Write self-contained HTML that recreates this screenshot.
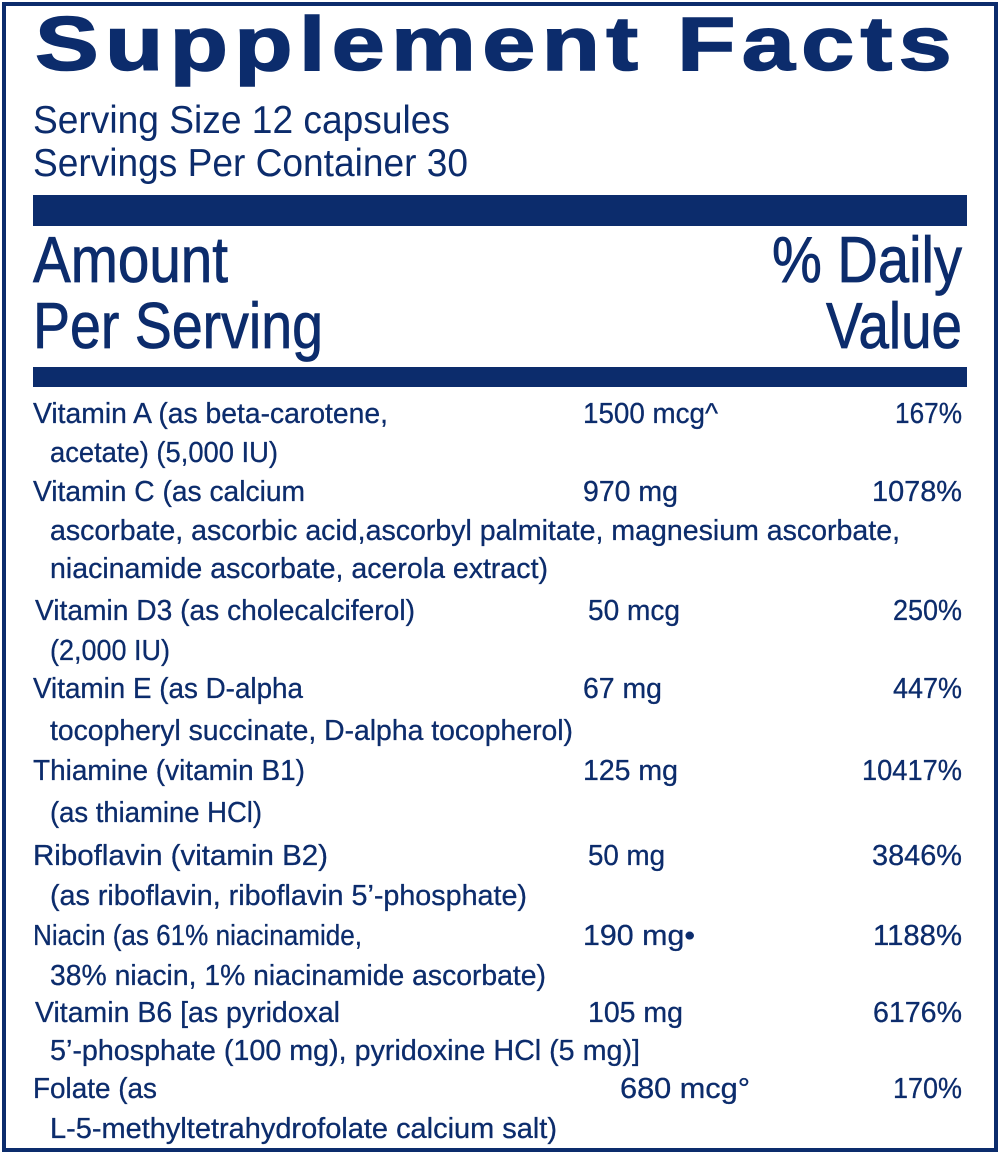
<!DOCTYPE html>
<html><head><meta charset="utf-8"><style>
html,body{margin:0;padding:0;background:#fff;}
svg{display:block;}
text{font-family:"Liberation Sans",sans-serif;fill:#0c2c6c;}
.r text{font-size:29px;stroke:#0c2c6c;stroke-width:0.3;}
</style></head><body>
<svg width="1000" height="1155" viewBox="0 0 1000 1155" xmlns="http://www.w3.org/2000/svg">
<rect x="4" y="4" width="992" height="1146" fill="none" stroke="#0c2c6c" stroke-width="4"/>
<text x="35" y="70" font-size="76" font-weight="bold" letter-spacing="5" stroke="#0c2c6c" stroke-width="1.5" textLength="923" lengthAdjust="spacingAndGlyphs">Supplement Facts</text>
<text x="33" y="133" font-size="39" textLength="417" lengthAdjust="spacingAndGlyphs">Serving Size 12 capsules</text>
<text x="33" y="176" font-size="39" textLength="435" lengthAdjust="spacingAndGlyphs">Servings Per Container 30</text>
<rect x="33" y="195" width="934" height="31" fill="#0c2c6c"/>
<text x="33" y="282" font-size="65" stroke="#0c2c6c" stroke-width="0.8" textLength="195" lengthAdjust="spacingAndGlyphs">Amount</text>
<text x="33" y="348" font-size="65" stroke="#0c2c6c" stroke-width="0.8" textLength="290" lengthAdjust="spacingAndGlyphs">Per Serving</text>
<text x="962" y="282" font-size="65" stroke="#0c2c6c" stroke-width="0.8" text-anchor="end" textLength="190" lengthAdjust="spacingAndGlyphs">% Daily</text>
<text x="962" y="348" font-size="65" stroke="#0c2c6c" stroke-width="0.8" text-anchor="end" textLength="136" lengthAdjust="spacingAndGlyphs">Value</text>
<rect x="33" y="367" width="934" height="20" fill="#0c2c6c"/>
<g class="r">
<text x="33" y="423" textLength="355" lengthAdjust="spacingAndGlyphs">Vitamin A (as beta-carotene,</text>
<text x="583" y="423" textLength="135" lengthAdjust="spacingAndGlyphs">1500 mcg^</text>
<text x="895" y="423" textLength="67" lengthAdjust="spacingAndGlyphs">167%</text>
<text x="50" y="462" textLength="228" lengthAdjust="spacingAndGlyphs">acetate) (5,000 IU)</text>
<text x="33" y="501" textLength="272" lengthAdjust="spacingAndGlyphs">Vitamin C (as calcium</text>
<text x="583" y="501" textLength="95" lengthAdjust="spacingAndGlyphs">970 mg</text>
<text x="872" y="501" textLength="90" lengthAdjust="spacingAndGlyphs">1078%</text>
<text x="50" y="540" textLength="850" lengthAdjust="spacingAndGlyphs">ascorbate, ascorbic acid,ascorbyl palmitate, magnesium ascorbate,</text>
<text x="50" y="578" textLength="498" lengthAdjust="spacingAndGlyphs">niacinamide ascorbate, acerola extract)</text>
<text x="35" y="620" textLength="380" lengthAdjust="spacingAndGlyphs">Vitamin D3 (as cholecalciferol)</text>
<text x="588" y="620" textLength="92" lengthAdjust="spacingAndGlyphs">50 mcg</text>
<text x="893" y="620" textLength="69" lengthAdjust="spacingAndGlyphs">250%</text>
<text x="50" y="660" textLength="120" lengthAdjust="spacingAndGlyphs">(2,000 IU)</text>
<text x="33" y="698" textLength="270" lengthAdjust="spacingAndGlyphs">Vitamin E (as D-alpha</text>
<text x="583" y="698" textLength="79" lengthAdjust="spacingAndGlyphs">67 mg</text>
<text x="893" y="698" textLength="69" lengthAdjust="spacingAndGlyphs">447%</text>
<text x="50" y="740" textLength="523" lengthAdjust="spacingAndGlyphs">tocopheryl succinate, D-alpha tocopherol)</text>
<text x="33" y="780" textLength="272" lengthAdjust="spacingAndGlyphs">Thiamine (vitamin B1)</text>
<text x="583" y="780" textLength="95" lengthAdjust="spacingAndGlyphs">125 mg</text>
<text x="862" y="780" textLength="100" lengthAdjust="spacingAndGlyphs">10417%</text>
<text x="50" y="822" textLength="212" lengthAdjust="spacingAndGlyphs">(as thiamine HCl)</text>
<text x="33" y="865" textLength="295" lengthAdjust="spacingAndGlyphs">Riboflavin (vitamin B2)</text>
<text x="588" y="865" textLength="77" lengthAdjust="spacingAndGlyphs">50 mg</text>
<text x="872" y="865" textLength="90" lengthAdjust="spacingAndGlyphs">3846%</text>
<text x="50" y="905" textLength="477" lengthAdjust="spacingAndGlyphs">(as riboflavin, riboflavin 5’-phosphate)</text>
<text x="33" y="945" textLength="329" lengthAdjust="spacingAndGlyphs">Niacin (as 61% niacinamide,</text>
<text x="583" y="945" textLength="112" lengthAdjust="spacingAndGlyphs">190 mg•</text>
<text x="873" y="945" textLength="89" lengthAdjust="spacingAndGlyphs">1188%</text>
<text x="50" y="985" textLength="496" lengthAdjust="spacingAndGlyphs">38% niacin, 1% niacinamide ascorbate)</text>
<text x="35" y="1022" textLength="305" lengthAdjust="spacingAndGlyphs">Vitamin B6 [as pyridoxal</text>
<text x="588" y="1022" textLength="95" lengthAdjust="spacingAndGlyphs">105 mg</text>
<text x="873" y="1022" textLength="89" lengthAdjust="spacingAndGlyphs">6176%</text>
<text x="50" y="1060" textLength="590" lengthAdjust="spacingAndGlyphs">5’-phosphate (100 mg), pyridoxine HCl (5 mg)]</text>
<text x="33" y="1098" textLength="124" lengthAdjust="spacingAndGlyphs">Folate (as</text>
<text x="620" y="1098" textLength="130" lengthAdjust="spacingAndGlyphs">680 mcg°</text>
<text x="893" y="1098" textLength="69" lengthAdjust="spacingAndGlyphs">170%</text>
<text x="50" y="1138" textLength="507" lengthAdjust="spacingAndGlyphs">L-5-methyltetrahydrofolate calcium salt)</text>
</g>
</svg>
</body></html>
